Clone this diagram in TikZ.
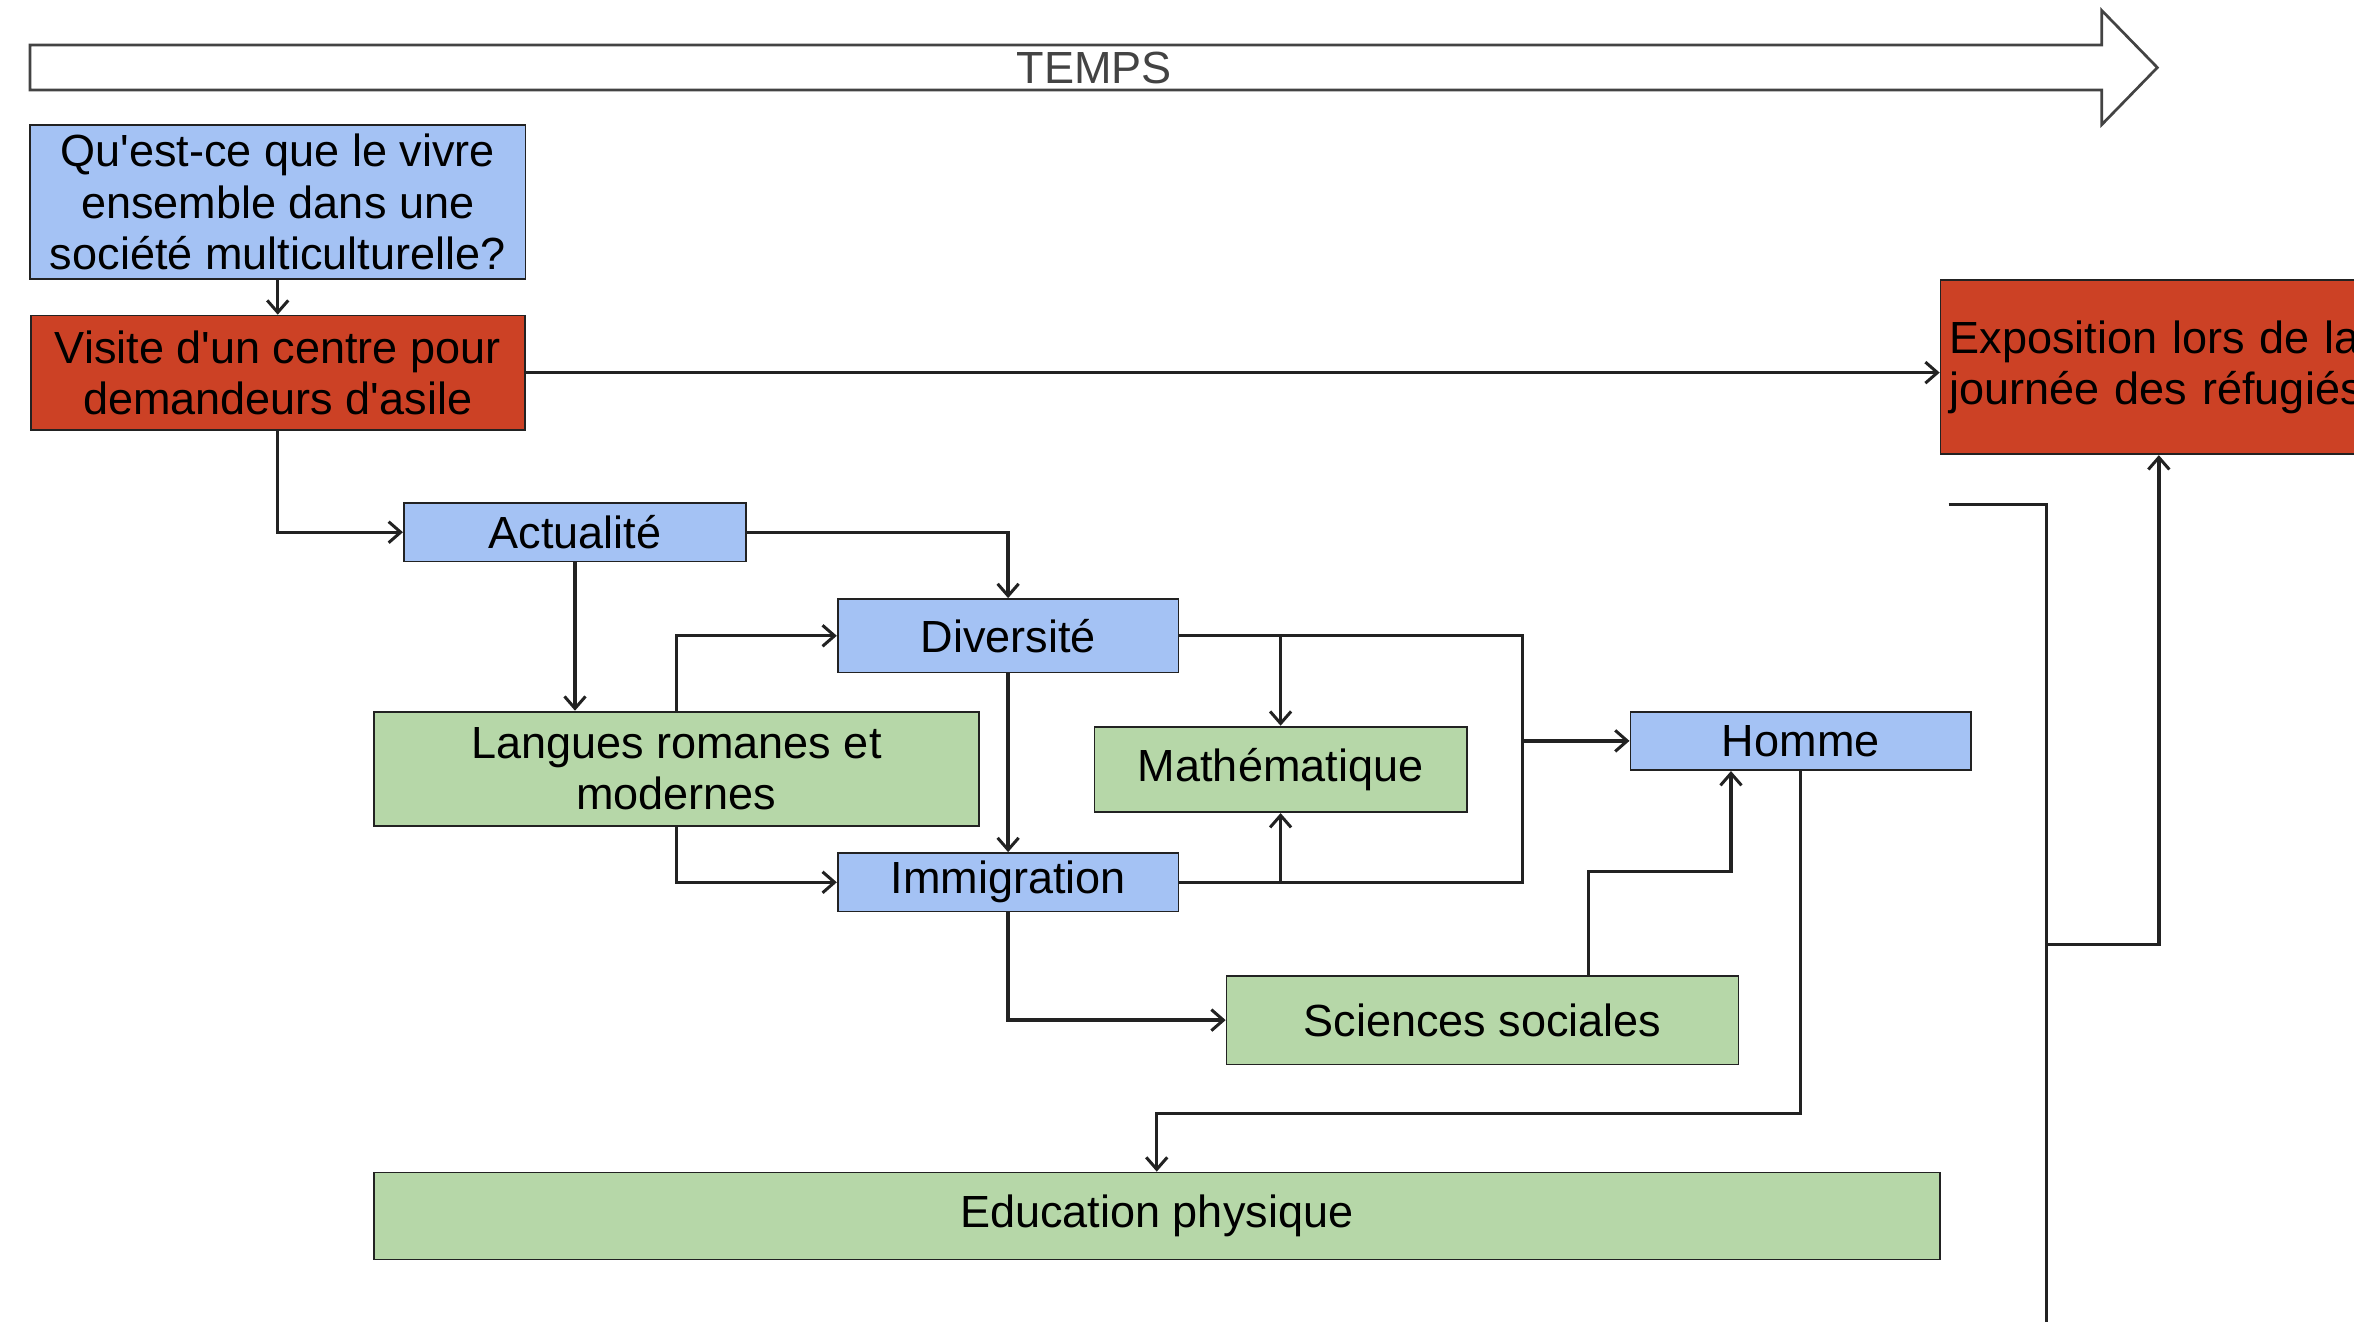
\documentclass[tikz,border=0pt]{standalone}
\usepackage{fontspec}
\setmainfont{Liberation Sans}
\usepackage{xcolor}
\usepackage{tikz}
\usetikzlibrary{arrows.meta, positioning}
\definecolor{boxblue}{HTML}{A4C2F4}
\definecolor{boxred}{HTML}{CC4125}
\definecolor{boxgreen}{HTML}{B6D7A8}
\definecolor{edge}{HTML}{222222}
\definecolor{timegray}{HTML}{434343}

\begin{document}
\begin{tikzpicture}
[x=1pt, y=-1pt,
box/.style={rectangle, draw=edge, line width=1.2pt, inner sep=0pt, align=center, font=\fontsize{30}{34}\selectfont},
topic/.style={box, fill=boxblue},
event/.style={box, fill=boxred},
subject/.style={box, fill=boxgreen},
wire/.style={draw=edge, line width=2.2pt},
conn/.style={wire, -{Straight Barb[length=8pt,width=14pt,line width=2pt]}}
]
\useasboundingbox (0,0) rectangle (1568,880);
\clip (0,0) rectangle (1568,880);

% time axis
\draw[draw=timegray, line width=1.8pt, fill=white]
  (20,30) -- (1400,30) -- (1400,7) -- (1437,45) -- (1400,83) -- (1400,60) -- (20,60) -- cycle;
\node (temps) [font=\fontsize{30}{34}\selectfont, text=timegray] at (729,45) {TEMPS};

% boxes
\node (quest) [topic, minimum width=330, minimum height=103] at (185,134.5)
  {Qu\textquotesingle est-ce que le vivre\\ensemble dans une\\société multiculturelle?};
\node (visite) [event, minimum width=329, minimum height=76, below=23pt of quest]
  {Visite d\textquotesingle un centre pour\\demandeurs d\textquotesingle asile};
\node (expo) [event, anchor=north west, minimum height=116, text width=322, inner xsep=6pt, align=left] at (1292,186)
  {Exposition lors de la\\journée des réfugiés};
\node (actu) [topic, minimum width=228, minimum height=39] at (383,354.5) {Actualité};
\node (div) [topic, minimum width=227, minimum height=49] at (671.5,423.5) {Diversité};
\node (lang) [subject, minimum width=403, minimum height=76] at (450.5,512)
  {Langues romanes et\\modernes};
\node (math) [subject, minimum width=248, minimum height=57] at (853,512.5) {Mathématique};
\node (immi) [topic, minimum width=227, minimum height=39, below=119pt of div] {Immigration};
\node (homme) [topic, minimum width=227, minimum height=39] at (1199.5,493.5) {Homme};
\node (socio) [subject, minimum width=341, minimum height=59] at (987.5,679.5) {Sciences sociales};
\node (edu) [subject, minimum width=1043, minimum height=58] at (770.5,810) {Education physique};

\coordinate (hub) at (1014,493.5);
\coordinate (brkTop) at (1298,336);
\coordinate (brkBot) at (1363,900);
\coordinate (brkMid) at (1363,629);

% connectors
\draw[conn] (quest) -- (visite);
\draw[conn] (visite.east) -- (expo.west |- visite.east);
\draw[conn] (visite.south) |- (actu.west);
\draw[conn] (actu.east) -| (div.north);
\draw[conn] (actu.south) -- (actu.south |- lang.north);
\draw[conn] (lang.north) |- (div.west);
\draw[conn] (lang.south) |- (immi.west);
\draw[conn] (div.south) -- (immi.north);
\draw[conn] (div.east) -| (math.north);
\draw[conn] (immi.east) -| (math.south);
\draw[wire] (div.east) -| (hub) |- (immi.east);
\draw[conn] (hub) -- (homme.west);
\draw[conn] (immi.south) |- (socio.west);
\draw[conn] ([xshift=70.5pt]socio.north) -- ++(0,-69) -| ([xshift=-46.5pt]homme.south);
\draw[conn] (homme.south) -- ++(0,228) -| (edu.north);
\draw[wire] (brkTop) -| (brkBot);
\draw[conn] (brkMid) -| ([xshift=146pt]expo.south west);
\end{tikzpicture}
\end{document}
